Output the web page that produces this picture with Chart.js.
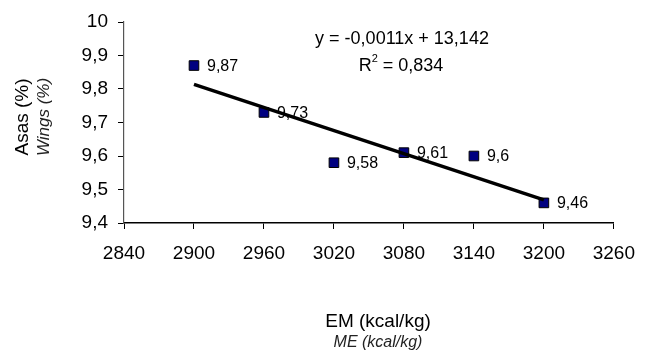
<!DOCTYPE html>
<html>
<head>
<meta charset="utf-8">
<script src="https://cdn.jsdelivr.net/npm/chart.js@4.4.1/dist/chart.umd.min.js"></script>
<style>
  html, body { margin: 0; padding: 0; background: #fff; }
  #wrap { width: 648px; height: 353px; }
</style>
</head>
<body>
<div id="wrap"><canvas id="myChart" width="648" height="353"></canvas></div>
<script>
// energy levels (kcal/kg) and wing yield (%)
const energy = [2900, 2960, 3020, 3080, 3140, 3200];
const wings = [9.87, 9.73, 9.58, 9.61, 9.6, 9.46];
// trend line ends
const trendX = [2900, 3200];
const trendY = [9.814, 9.469];
const xTicks = [2840, 2900, 2960, 3020, 3080, 3140, 3200, 3260];
const yTicks = [9.4, 9.5, 9.6, 9.7, 9.8, 9.9, 10];
const equation = "y = -0,0011x + 13,142";
const rSquared = "0,834";

const FONT = "'Liberation Sans', Arial, sans-serif";

function comma(v) {
    return String(v).replace('.', ',');
}

const labelsPlugin = {
    id: 'pointLabels',
    afterDatasetsDraw(chart) {
        const ctx = chart.ctx;
        const meta = chart.getDatasetMeta(1);
        ctx.save();
        ctx.fillStyle = '#000';
        ctx.font = '16px ' + FONT;
        ctx.textAlign = 'left';
        ctx.textBaseline = 'middle';
        meta.data.forEach(function (pt, i) {
            ctx.fillText(comma(wings[i]), pt.x + 13, pt.y + 1);
        });
        ctx.restore();
    }
};

const textPlugin = {
    id: 'extraText',
    afterDraw(chart) {
        const ctx = chart.ctx;
        ctx.save();
        ctx.fillStyle = '#000';
        ctx.textAlign = 'center';
        ctx.textBaseline = 'middle';

        // regression equation
        ctx.font = '18px ' + FONT;
        ctx.fillText(equation, 402, 39);
        const rest = " = " + rSquared;
        const wR = ctx.measureText("R").width;
        const wRest = ctx.measureText(rest).width;
        ctx.font = '11px ' + FONT;
        const wSup = ctx.measureText("2").width;
        let x0 = 401 - (wR + wSup + wRest) / 2;
        ctx.textAlign = 'left';
        ctx.font = '18px ' + FONT;
        ctx.fillText("R", x0, 66);
        ctx.font = '11px ' + FONT;
        ctx.fillText("2", x0 + wR, 59);
        ctx.font = '18px ' + FONT;
        ctx.fillText(rest, x0 + wR + wSup, 66);

        // x axis title
        ctx.textAlign = 'center';
        ctx.font = '19px ' + FONT;
        ctx.fillText("EM (kcal/kg)", 378, 322);
        ctx.fillStyle = '#222';
        ctx.font = 'italic 16px ' + FONT;
        ctx.fillText("ME (kcal/kg)", 378, 343);

        // y axis title
        ctx.translate(23, 117);
        ctx.rotate(-Math.PI / 2);
        ctx.fillStyle = '#000';
        ctx.font = '19px ' + FONT;
        ctx.fillText("Asas (%)", 0, 0);
        ctx.fillStyle = '#222';
        ctx.font = 'italic 17px ' + FONT;
        ctx.fillText("Wings (%)", 0, 21);
        ctx.restore();
    }
};

const ctx = document.getElementById("myChart").getContext("2d");
const chart = new Chart(ctx, {
    type: "scatter",
    data: {
        datasets: [
            {
                label: "Trend",
                type: "line",
                data: trendX.map(function (x, i) { return { x: x, y: trendY[i] }; }),
                borderColor: "#000",
                borderWidth: 3.5,
                pointRadius: 0,
                fill: false,
            },
            {
                label: "Asas",
                data: energy.map(function (x, i) { return { x: x, y: wings[i] }; }),
                pointStyle: "rect",
                pointRadius: 6.8,
                pointBackgroundColor: "#000080",
                pointBorderColor: "#000",
                pointBorderWidth: 1,
            },
        ],
    },
    options: {
        responsive: false,
        animation: false,
        events: [],
        layout: {
            padding: { left: 0, right: 25, top: 22, bottom: 0 }
        },
        plugins: {
            legend: { display: false },
            tooltip: { enabled: false },
        },
        scales: {
            x: {
                type: "linear",
                min: 2840,
                max: 3260,
                afterBuildTicks: function (axis) {
                    axis.ticks = xTicks.map(function (v) { return { value: v }; });
                },
                afterFit: function (axis) { axis.height = 130; },
                border: { display: true, color: "#000", width: 1.5 },
                grid: { drawOnChartArea: false, drawTicks: true, tickLength: 6, color: "#000" },
                ticks: {
                    color: "#000",
                    font: { family: FONT, size: 19 },
                    padding: 13,
                    maxRotation: 0,
                    callback: function (v) { return String(v); },
                },
            },
            y: {
                type: "linear",
                min: 9.4,
                max: 10,
                afterBuildTicks: function (axis) {
                    axis.ticks = yTicks.map(function (v) { return { value: v }; });
                },
                afterFit: function (axis) { axis.width = 124; },
                border: { display: true, color: "#555", width: 1.2 },
                grid: { drawOnChartArea: false, drawTicks: true, tickLength: 6, color: "#000" },
                ticks: {
                    color: "#000",
                    font: { family: FONT, size: 19 },
                    padding: 10,
                    callback: function (v) { return comma(Math.round(v * 10) / 10); },
                },
            },
        },
    },
    plugins: [labelsPlugin, textPlugin],
});
</script>
</body>
</html>
